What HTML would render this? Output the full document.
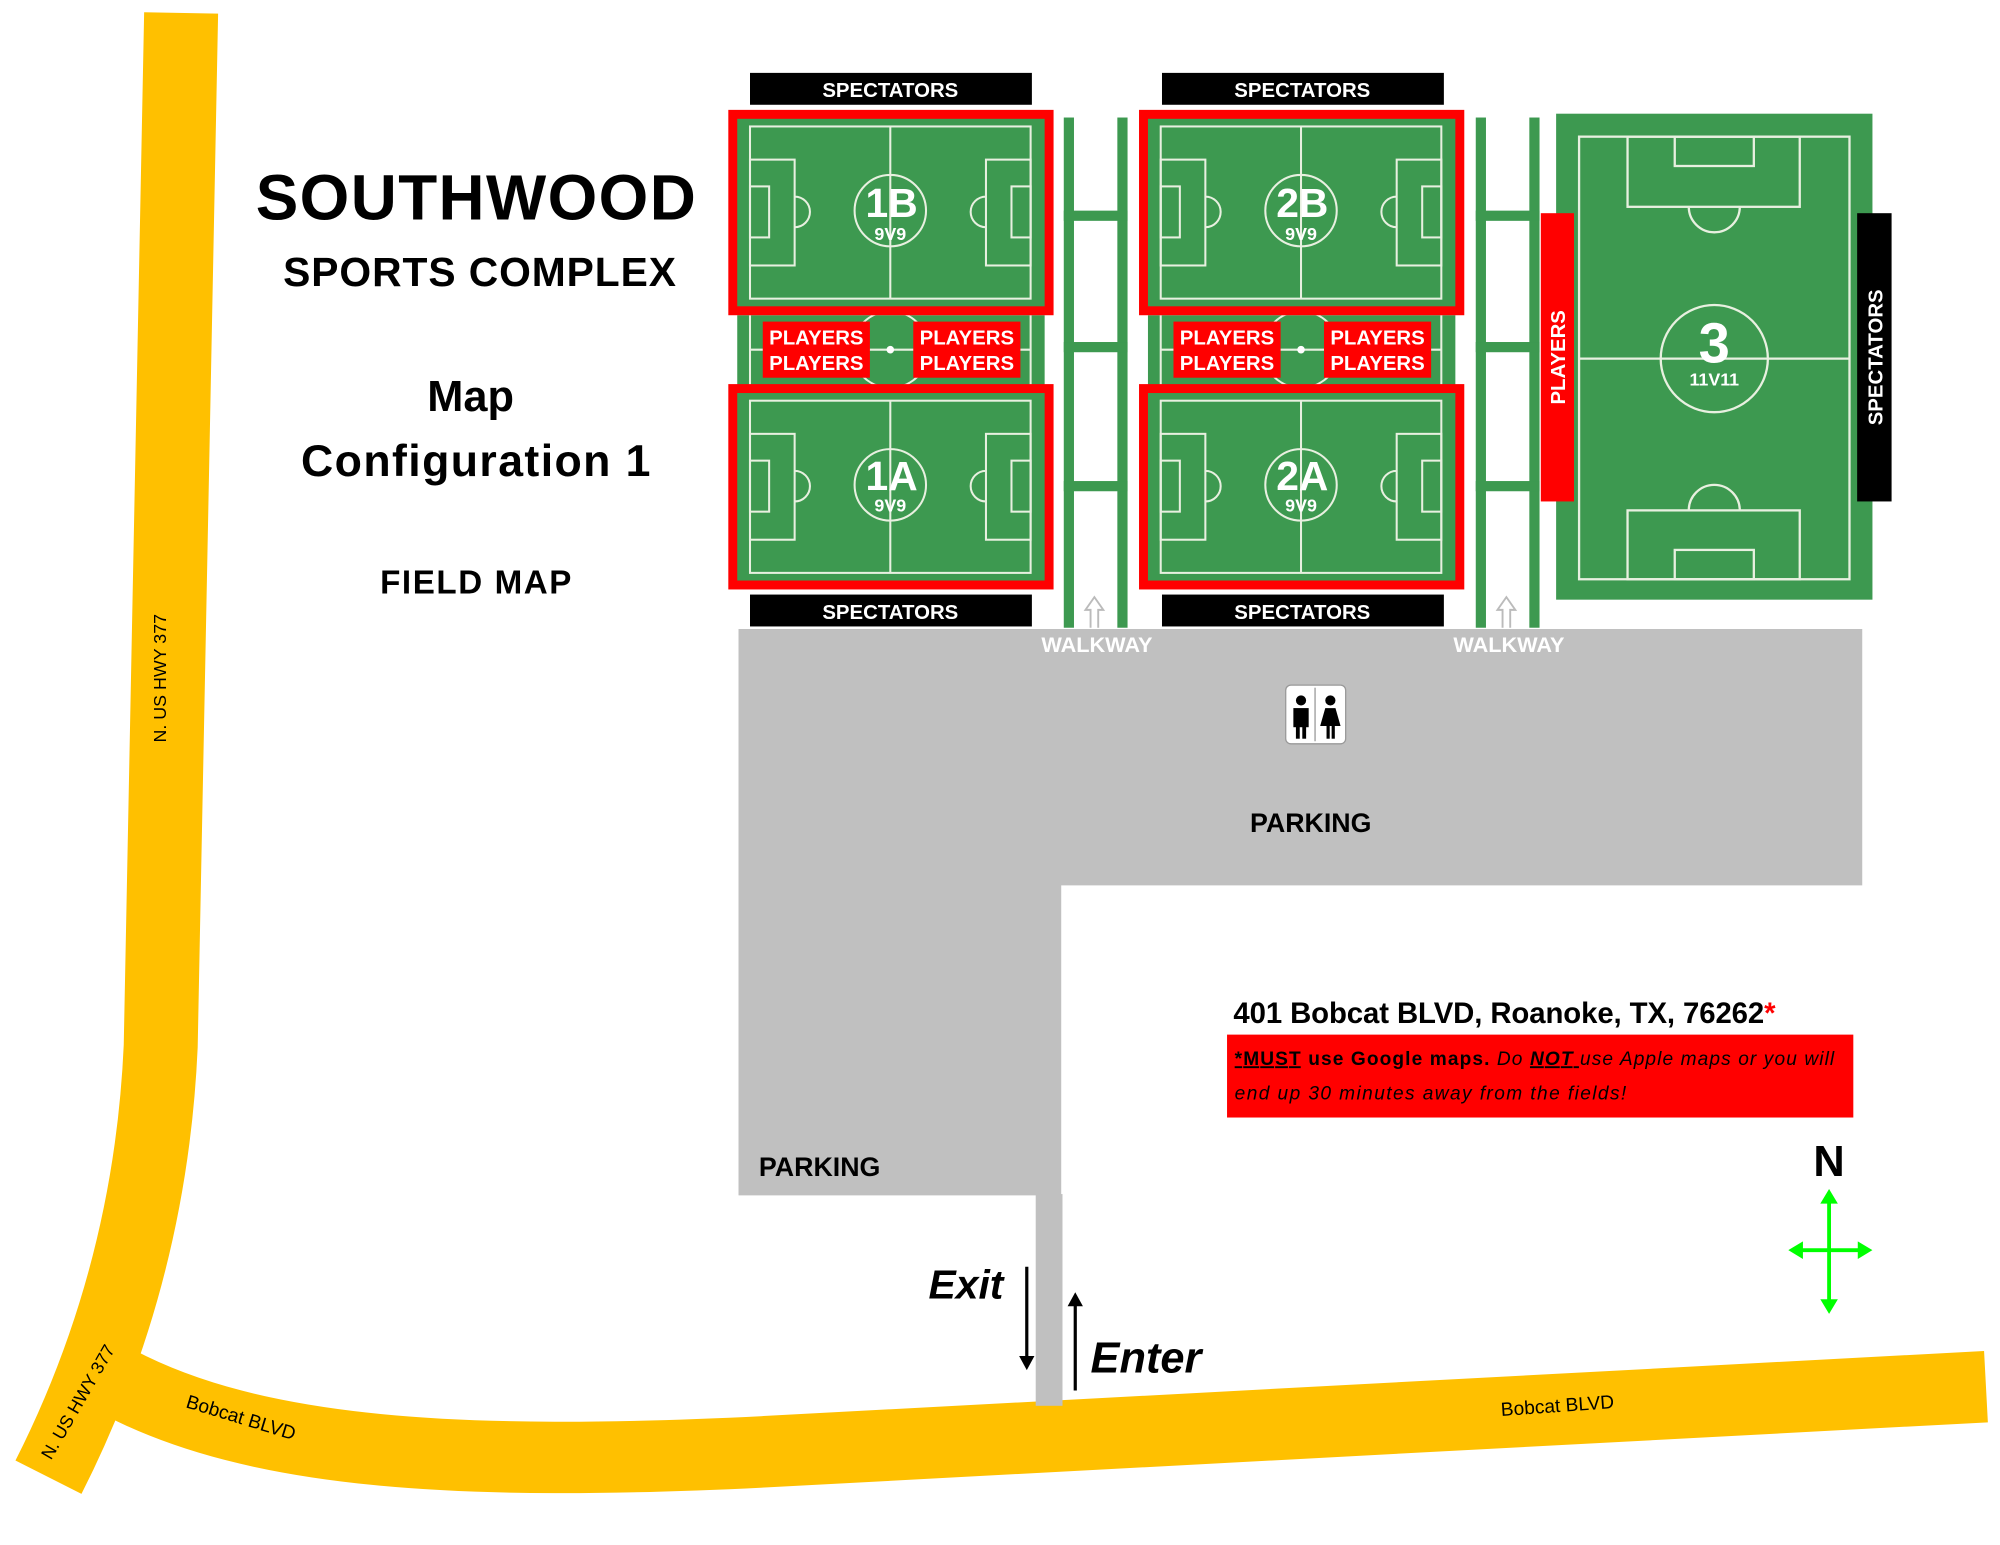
<!DOCTYPE html>
<html><head><meta charset="utf-8"><style>
html,body{margin:0;padding:0;background:#fff}
svg{display:block}
text{font-family:"Liberation Sans",sans-serif;font-weight:bold}
</style></head><body>
<svg width="2000" height="1545" viewBox="0 0 1568 1211" xmlns="http://www.w3.org/2000/svg">
<defs>
<g id="f9">
  <rect x="3.5" y="3.5" width="248" height="154" fill="#3d9950" stroke="#ff0000" stroke-width="7"/>
  <g fill="none" stroke="#e8f0e0" stroke-width="1.6">
    <rect x="17" y="13" width="220" height="135"/>
    <line x1="127" y1="13" x2="127" y2="148"/>
    <circle cx="127" cy="79" r="28"/>
    <rect x="17" y="39" width="35" height="83"/>
    <rect x="17" y="60" width="15" height="40"/>
    <path d="M52,68 A12,12 0 0 1 52,92"/>
    <rect x="202" y="39" width="35" height="83"/>
    <rect x="222" y="60" width="15" height="40"/>
    <path d="M202,68 A12,12 0 0 0 202,92"/>
  </g>
</g>
<g id="mid">
  <rect x="7" y="0" width="241" height="55" fill="#3d9950"/>
  <g fill="none" stroke="#e8f0e0" stroke-width="1.6">
    <line x1="17" y1="0" x2="17" y2="55"/><line x1="237" y1="0" x2="237" y2="55"/>
    <line x1="17" y1="27" x2="237" y2="27"/>
    <circle cx="127" cy="27" r="30"/>
  </g>
  <circle cx="127" cy="27" r="3" fill="#fff"/>
  <rect x="27" y="5" width="84" height="44" fill="#ff0000"/>
  <rect x="145" y="5" width="84" height="44" fill="#ff0000"/>
  <g fill="#fff" font-size="16" text-anchor="middle">
    <text x="69" y="23">PLAYERS</text><text x="69" y="43">PLAYERS</text>
    <text x="187" y="23">PLAYERS</text><text x="187" y="43">PLAYERS</text>
  </g>
</g>
<g id="ladder" fill="#3d9950">
  <rect x="0" y="0" width="8" height="400"/><rect x="42" y="0" width="8" height="400"/>
  <rect x="0" y="73" width="50" height="8"/><rect x="0" y="176" width="50" height="8"/><rect x="0" y="285" width="50" height="8"/>
</g>
</defs>

<!-- roads -->
<path d="M142,10 L126,820 Q118,1000 38,1158" fill="none" stroke="#ffc000" stroke-width="58"/>
<path d="M92,1083 C200,1140 360,1150 600,1138 L1557,1087" fill="none" stroke="#ffc000" stroke-width="56"/>
<text x="0" y="0" font-size="14" transform="translate(130,582) rotate(-90)" style="font-weight:normal">N. US HWY 377</text>
<text x="0" y="0" font-size="14" transform="translate(40,1145) rotate(-60)" style="font-weight:normal">N. US HWY 377</text>
<text x="0" y="0" font-size="15" transform="translate(145,1103) rotate(17)" style="font-weight:normal">Bobcat BLVD</text>
<text x="0" y="0" font-size="15" transform="translate(1177,1110) rotate(-4)" style="font-weight:normal">Bobcat BLVD</text>

<!-- parking -->
<path d="M579,493 L1460,493 L1460,694 L832,694 L832,937 L579,937 Z" fill="#c0c0c0"/>
<rect x="812" y="936" width="21" height="166" fill="#c0c0c0"/>
<text x="980" y="652" font-size="21">PARKING</text>
<text x="595" y="922" font-size="21">PARKING</text>
<!-- restroom -->
<rect x="1008" y="537" width="47" height="46" rx="4" fill="#fff" stroke="#999"/>
<line x1="1031" y1="539" x2="1031" y2="581" stroke="#999"/>
<g fill="#000">
<circle cx="1020" cy="549" r="4"/><rect x="1014" y="555" width="12" height="15"/><rect x="1016" y="568" width="3" height="11"/><rect x="1021" y="568" width="3" height="11"/>
<circle cx="1043" cy="549" r="4"/><path d="M1039,555 L1047,555 L1051,569 L1035,569 Z"/><rect x="1040" y="568" width="2.5" height="11"/><rect x="1044" y="568" width="2.5" height="11"/>
</g>

<!-- ladders -->
<use href="#ladder" x="834" y="92"/>
<use href="#ladder" x="1157" y="92"/>
<g fill="none" stroke="#bbb" stroke-width="1.5">
<path d="M855,492 L855,478 L851,478 L858,468 L865,478 L861,478 L861,492"/>
<path d="M1178,492 L1178,478 L1174,478 L1181,468 L1188,478 L1184,478 L1184,492"/>
</g>
<text x="860" y="511" font-size="17" fill="#fff" text-anchor="middle">WALKWAY</text>
<text x="1183" y="511" font-size="17" fill="#fff" text-anchor="middle">WALKWAY</text>

<!-- spectators bars -->
<rect x="588" y="57" width="221" height="25" fill="#000"/>
<rect x="588" y="466" width="221" height="25" fill="#000"/>
<rect x="911" y="57" width="221" height="25" fill="#000"/>
<rect x="911" y="466" width="221" height="25" fill="#000"/>
<g fill="#fff" font-size="16" text-anchor="middle">
<text x="698" y="76">SPECTATORS</text><text x="698" y="485">SPECTATORS</text>
<text x="1021" y="76">SPECTATORS</text><text x="1021" y="485">SPECTATORS</text>
</g>

<!-- fields 1 & 2 -->
<use href="#mid" x="571" y="247"/>
<use href="#mid" x="893" y="247"/>
<use href="#f9" x="571" y="86"/>
<use href="#f9" x="571" y="301"/>
<use href="#f9" x="893" y="86"/>
<use href="#f9" x="893" y="301"/>
<g fill="#fff" text-anchor="middle">
<text x="699" y="170" font-size="32">1B</text><text x="698" y="188" font-size="14">9V9</text>
<text x="699" y="384" font-size="32">1A</text><text x="698" y="401" font-size="14">9V9</text>
<text x="1021" y="170" font-size="32">2B</text><text x="1020" y="188" font-size="14">9V9</text>
<text x="1021" y="384" font-size="32">2A</text><text x="1020" y="401" font-size="14">9V9</text>
</g>

<!-- field 3 -->
<rect x="1220" y="89" width="248" height="381" fill="#3d9950"/>
<g fill="none" stroke="#e8f0e0" stroke-width="1.8">
<rect x="1238" y="107" width="212" height="347"/>
<line x1="1238" y1="281" x2="1450" y2="281"/>
<circle cx="1344" cy="281" r="42"/>
<rect x="1276" y="107" width="135" height="55"/><rect x="1313" y="107" width="62" height="23"/>
<path d="M1324,162 A20,20 0 0 0 1364,162"/>
<rect x="1276" y="400" width="135" height="54"/><rect x="1313" y="431" width="62" height="23"/>
<path d="M1324,400 A20,20 0 0 1 1364,400"/>
</g>
<text x="1344" y="284" font-size="44" fill="#fff" text-anchor="middle">3</text>
<text x="1344" y="302" font-size="14" fill="#fff" text-anchor="middle">11V11</text>
<rect x="1208" y="167" width="26" height="226" fill="#ff0000"/>
<text transform="translate(1227,280) rotate(-90)" font-size="16" fill="#fff" text-anchor="middle">PLAYERS</text>
<rect x="1456" y="167" width="27" height="226" fill="#000"/>
<text transform="translate(1476,280) rotate(-90)" font-size="16" fill="#fff" text-anchor="middle">SPECTATORS</text>

<!-- titles -->
<text x="373" y="172" font-size="50" text-anchor="middle" textLength="345">SOUTHWOOD</text>
<text x="376" y="224" font-size="32" text-anchor="middle" textLength="308">SPORTS COMPLEX</text>
<text x="369" y="322" font-size="34" text-anchor="middle">Map</text>
<text x="373" y="373" font-size="35" text-anchor="middle" textLength="274">Configuration 1</text>
<text x="373" y="465" font-size="26" text-anchor="middle" textLength="150">FIELD MAP</text>

<!-- address -->
<text x="967" y="802" font-size="23" textLength="425">401 Bobcat BLVD, Roanoke, TX, 76262<tspan fill="#ff0000">*</tspan></text>
<rect x="962" y="811" width="491" height="65" fill="#ff0000"/>
<text x="968" y="835" font-size="15" textLength="470"><tspan text-decoration="underline">*MUST</tspan> use Google maps. <tspan font-style="italic" font-weight="normal">Do </tspan><tspan font-style="italic" text-decoration="underline">NOT </tspan><tspan font-style="italic" font-weight="normal">use Apple maps or you will</tspan></text>
<text x="968" y="862" font-size="15" font-style="italic" style="font-weight:normal" textLength="307">end up 30 minutes away from the fields!</text>

<!-- exit/enter -->
<line x1="805" y1="993" x2="805" y2="1065" stroke="#000" stroke-width="2.5"/>
<path d="M799,1063 L811,1063 L805,1074 Z"/>
<line x1="843" y1="1090" x2="843" y2="1022" stroke="#000" stroke-width="2.5"/>
<path d="M837,1024 L849,1024 L843,1013 Z"/>
<text x="728" y="1018" font-size="32" font-style="italic">Exit</text>
<text x="855" y="1076" font-size="34" font-style="italic">Enter</text>

<!-- compass -->
<text x="1434" y="922" font-size="34" text-anchor="middle">N</text>
<g stroke="#00ff00" stroke-width="3" fill="#00ff00">
<line x1="1434" y1="940" x2="1434" y2="1022"/><line x1="1410" y1="980" x2="1460" y2="980"/>
<path d="M1428,943 L1440,943 L1434,933 Z" stroke-width="1"/>
<path d="M1428,1019 L1440,1019 L1434,1029 Z" stroke-width="1"/>
<path d="M1413,974 L1413,986 L1403,980 Z" stroke-width="1"/>
<path d="M1457,974 L1457,986 L1467,980 Z" stroke-width="1"/>
</g>
</svg>
</body></html>
